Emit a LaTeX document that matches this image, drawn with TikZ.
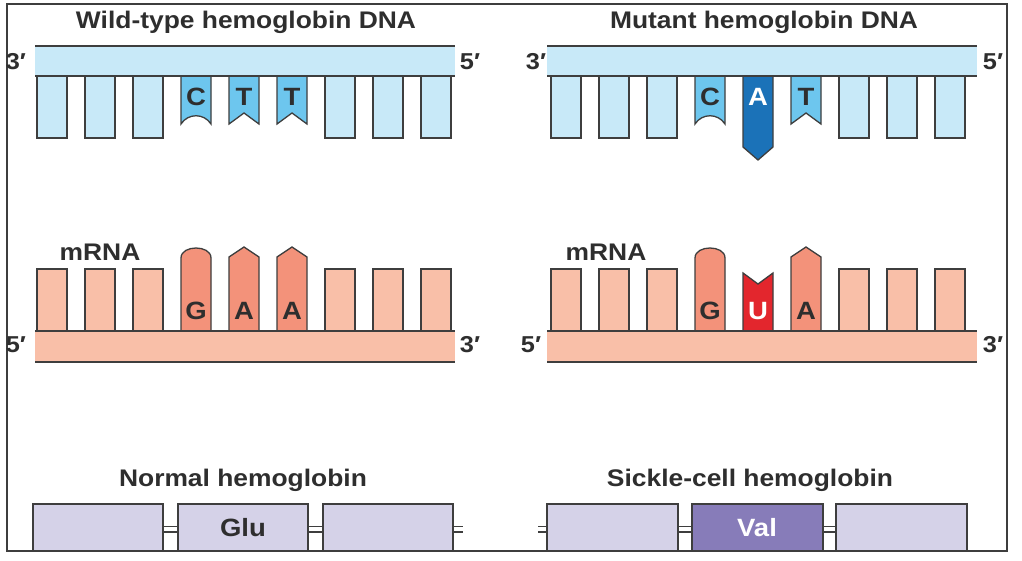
\documentclass[tikz,border=0pt]{standalone}
\usepackage{fontspec}
\setmainfont{Liberation Sans}[FakeStretch=1.1]
\definecolor{dnaL}{HTML}{C8E9F8}
\definecolor{dnaM}{HTML}{6DC6EE}
\definecolor{dnaD}{HTML}{1B72B8}
\definecolor{rnaL}{HTML}{F9BFA8}
\definecolor{rnaM}{HTML}{F3927A}
\definecolor{rnaR}{HTML}{E3262D}
\definecolor{protL}{HTML}{D5D2E8}
\definecolor{protD}{HTML}{877CB9}
\definecolor{strokec}{HTML}{3E3E3E}
\definecolor{textc}{HTML}{2E2E2E}
\begin{document}
\begin{tikzpicture}[x=1pt,y=-1pt,
  outline/.style={draw=strokec, line width=1.3, line join=miter},
  lbl/.style={font=\bfseries\fontsize{25}{25}\selectfont, text=textc, inner sep=0},
  wlbl/.style={lbl, text=white},
  ttl/.style={font=\bfseries\fontsize{24}{24}\selectfont, text=textc, inner sep=0},
  endlbl/.style={font=\bfseries\fontsize{23}{23}\selectfont, text=textc, inner sep=0},
  eqline/.style={draw=strokec, line width=1.1}]
\useasboundingbox (0,0) rectangle (1022,560);
\fill[white] (0,0) rectangle (1022,560);

% ---------- DNA strands ----------
\foreach \xa/\xb in {35/455, 547/977}{
  \fill[dnaL] (\xa,46) rectangle (\xb,76);
  \draw[outline] (\xa,46) -- (\xb,46);
}
% plain DNA teeth
\foreach \x in {37,85,133,325,373,421,551,599,647,839,887,935}{
  \filldraw[fill=dnaL, outline] (\x,76) -- (\x,138) -- (\x+30,138) -- (\x+30,76);
}
% C teeth
\foreach \x in {181,695}{
  \filldraw[fill=dnaM, outline] (\x,76) -- (\x,124) .. controls (\x+7,113) and (\x+23,113) .. (\x+30,124) -- (\x+30,76);
}
% T teeth
\foreach \x in {229,277,791}{
  \filldraw[fill=dnaM, outline] (\x,76) -- (\x,124) -- (\x+15,113) -- (\x+30,124) -- (\x+30,76);
}
% mutant A
\filldraw[fill=dnaD, outline] (743,76) -- (743,147) -- (758,160) -- (773,147) -- (773,76);
\foreach \xa/\xb in {35/455, 547/977}{
  \draw[outline] (\xa,76) -- (\xb,76);
}

% ---------- mRNA ----------
\foreach \x in {37,85,133,325,373,421,551,599,647,839,887,935}{
  \filldraw[fill=rnaL, outline] (\x,331) -- (\x,269) -- (\x+30,269) -- (\x+30,331);
}
\foreach \x in {181,695}{
  \filldraw[fill=rnaM, outline] (\x,331) -- (\x,258) .. controls (\x,251) and (\x+8,248) .. (\x+15,248) .. controls (\x+22,248) and (\x+30,251) .. (\x+30,258) -- (\x+30,331);
}
\foreach \x in {229,277,791}{
  \filldraw[fill=rnaM, outline] (\x,331) -- (\x,257) -- (\x+15,247) -- (\x+30,257) -- (\x+30,331);
}
\filldraw[fill=rnaR, outline] (743,331) -- (743,273) -- (758,284) -- (773,273) -- (773,331);
\foreach \xa/\xb in {35/455, 547/977}{
  \fill[rnaL] (\xa,331) rectangle (\xb,362);
  \draw[outline] (\xa,331) -- (\xb,331);
  \draw[outline] (\xa,362) -- (\xb,362);
}

% ---------- proteins ----------
\foreach \xa/\xb in {33/163,178/308,323/453,547/678,836/967}{
  \filldraw[fill=protL, outline] (\xa,504) rectangle (\xb,551);
}
\filldraw[fill=protD, outline] (692,504) rectangle (823,551);
\foreach \xa/\xb in {163/178,308/323,453/463,538/547,678/692,823/836}{
  \draw[eqline] (\xa,526.5) -- (\xb,526.5);
  \draw[eqline] (\xa,532) -- (\xb,532);
}

% frame
\draw[draw=strokec, line width=1.2] (7,4) rectangle (1007,551);

% ---------- texts ----------
\node[ttl] (t1) at (246,22) {Wild-type hemoglobin DNA};
\node[ttl] (t2) at (764,22) {Mutant hemoglobin DNA};
\node[endlbl] (d1l) at (16,62) {3′};
\node[endlbl] (d1r) at (470,62) {5′};
\node[endlbl] (d2l) at (536,62) {3′};
\node[endlbl] (d2r) at (993,62) {5′};
\node[lbl] (b1) at (196,97) {C};
\node[lbl] (b2) at (244,97) {T};
\node[lbl] (b3) at (292,97) {T};
\node[lbl] (b4) at (710,97) {C};
\node[wlbl] (b5) at (758,97) {A};
\node[lbl] (b6) at (806,97) {T};

\node[ttl] (m1) at (100,252) {mRNA};
\node[ttl] (m2) at (606,252) {mRNA};
\node[endlbl] (r1l) at (16,345) {5′};
\node[endlbl] (r1r) at (470,345) {3′};
\node[endlbl] (r2l) at (531,345) {5′};
\node[endlbl] (r2r) at (993,345) {3′};
\node[lbl] (g1) at (196,311) {G};
\node[lbl] (g2) at (244,311) {A};
\node[lbl] (g3) at (292,311) {A};
\node[lbl] (g4) at (710,311) {G};
\node[wlbl] (g5) at (758,311) {U};
\node[lbl] (g6) at (806,311) {A};

\node[ttl] (p1) at (243,480) {Normal hemoglobin};
\node[ttl] (p2) at (750,480) {Sickle-cell hemoglobin};
\node[lbl] (aa1) at (243,528) {Glu};
\node[wlbl] (aa2) at (757,528) {Val};
\end{tikzpicture}
\end{document}
